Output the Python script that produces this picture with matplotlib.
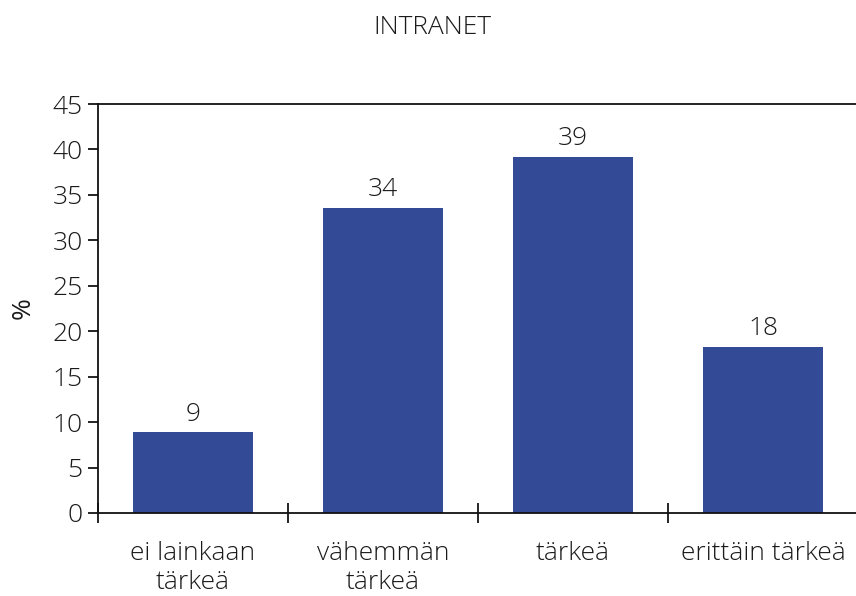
import matplotlib
matplotlib.use("Agg")
import matplotlib.pyplot as plt

categories = ["ei lainkaan\ntärkeä", "vähemmän\ntärkeä", "tärkeä", "erittäin tärkeä"]
values = [8.9, 33.6, 39.2, 18.3]
yticks = [0, 5, 10, 15, 20, 25, 30, 35, 40, 45]

plt.rcParams["font.family"] = ["Open Sans", "DejaVu Sans"]
plt.rcParams["font.weight"] = "light"

FS = 19
TXT = "#1a1a1a"

fig = plt.figure(figsize=(8.56, 5.96), dpi=100)
ax = fig.add_axes([98 / 856, 1 - 513 / 596, 760 / 856, (513 - 104) / 596])

x = range(len(categories))
ax.bar(x, values, width=0.63, color="#334a96", zorder=2)
for xi, v in zip(x, values):
    ax.text(xi, v + 0.6, f"{v:.0f}", ha="center", va="bottom", fontsize=FS,
            color=TXT, fontweight="light")

ax.set_xlim(-0.5, len(categories) - 0.5)
ax.set_ylim(0, 45)
ax.set_yticks(yticks)
ax.set_yticklabels([str(t) for t in yticks], fontsize=FS, color=TXT)
ax.set_xticks([i - 0.5 for i in range(len(categories) + 1)])
ax.set_xticklabels([])
ax.set_xticks(list(x), minor=True)
ax.set_xticklabels(categories, minor=True, fontsize=FS, color=TXT,
                   linespacing=1.22)
ax.tick_params(axis="x", which="major", direction="inout", length=14, width=1.2)
ax.tick_params(axis="x", which="minor", length=0, pad=20)
ax.tick_params(axis="y", direction="out", length=7, width=1.2, pad=4)

for s in ["left", "bottom", "top"]:
    ax.spines[s].set_linewidth(1.3)
    ax.spines[s].set_color("#111111")
ax.spines["right"].set_visible(False)

ax.set_ylabel("%", fontsize=FS, color=TXT, labelpad=12)
fig.text(432 / 856, 1 - 27 / 596, "INTRANET", ha="center", va="center",
         fontsize=FS, color=TXT, fontweight="light")

fig.savefig("out.png", dpi=100)
